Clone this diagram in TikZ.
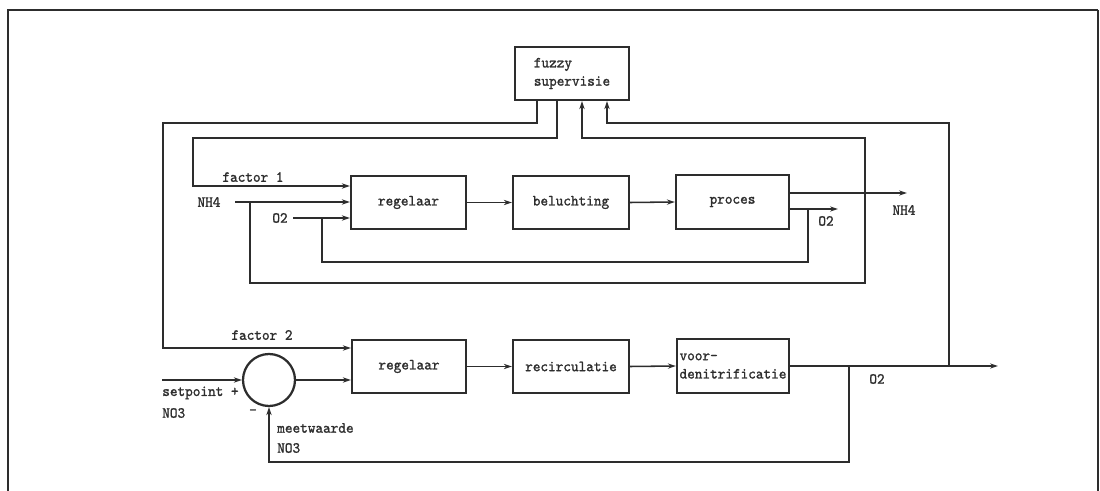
\documentclass[tikz,border=0pt]{standalone}
\usepackage{fontspec}
\newfontfamily\plotfont{Latin Modern Mono}[FakeBold=1.3, FakeStretch=0.94]
\usetikzlibrary{arrows.meta}
\definecolor{ink}{RGB}{45,45,45}
\begin{document}
\begin{tikzpicture}[x=0.025cm,y=-0.025cm,
  every node/.style={font=\plotfont\fontsize{11}{13}\selectfont, text=ink},
  blk/.style={draw=ink, line width=1.6pt, inner sep=0pt, minimum height=53*0.025cm, align=left},
  sig/.style={draw=ink, line width=1.1pt},
  arr/.style={sig, -{Stealth[length=2mm,width=1.3mm]}},
  lbl/.style={inner sep=0pt}]
\useasboundingbox (0,0) rectangle (1100,491);

% outer frame
\draw[ink, line width=1.4pt] (8,491) -- (8,10) -- (1098,10);
\draw[ink, line width=0.9pt] (1098,10) -- (1098,491);

% supervisory block
\node[blk, minimum width=114*0.025cm] (F) at (572,73.5) {fuzzy\\supervisie};

% aeration loop
\node[blk, minimum width=115*0.025cm] (R1) at (408.5,202.5) {regelaar};
\node[blk, minimum width=116*0.025cm] (B) at (571,202.5) {beluchting};
\node[blk, minimum width=113*0.025cm, minimum height=54*0.025cm] (P) at (732.5,202) {proces};

% denitrification loop
\node[blk, minimum width=114*0.025cm] (R2) at (409,366.5) {regelaar};
\node[blk, minimum width=116*0.025cm] (RC) at (571,366.5) {recirculatie};
\node[blk, minimum width=112*0.025cm, minimum height=54*0.025cm] (V) at (733,366) {voor-\\denitrificatie};
\node[draw=ink, line width=1.6pt, circle, minimum size=52*0.025cm, inner sep=0pt] (S) at (269,380) {};

% labels
\node[lbl] (tf1) at (253,177) {factor 1};
\node[lbl] (tnh4) at (209,202) {NH4};
\node[lbl] (to2) at (280,218) {O2};
\node[lbl] (tnh4o) at (904,210) {NH4};
\node[lbl] (to2o) at (826,221) {O2};
\node[lbl] (tf2) at (262,335) {factor 2};
\node[lbl, anchor=west] (tsp) at (162,393) {setpoint +};
\node[lbl, anchor=west] (tno3) at (162,413) {NO3};
\node[lbl] (tmin) at (253,412) {-};
\node[lbl, anchor=west] (tmw) at (277,428) {meetwaarde};
\node[lbl, anchor=west] (tno3b) at (277,448) {NO3};
\node[lbl] (to2l) at (877,379) {O2};

% routing points
\coordinate (xa) at (537,0);
\coordinate (xb) at (557,0);
\coordinate (k1) at (163,123);
\coordinate (k2) at (163,348);
\coordinate (m1) at (193,138);
\coordinate (m2) at (193,186);
\coordinate (n0) at (235,202);
\coordinate (n1) at (250,202);
\coordinate (n2) at (865,283);
\coordinate (n3) at (582,138);
\coordinate (i0) at (293,218);
\coordinate (o1) at (808,209);
\coordinate (o2) at (322,262);
\coordinate (o3) at (322,218);
\coordinate (yN) at (0,193);
\coordinate (yO) at (0,209);
\coordinate (eN) at (907,193);
\coordinate (eO) at (838,209);
\coordinate (sp) at (162,380);
\coordinate (v1) at (849,366);
\coordinate (v2) at (269,462);
\coordinate (w1) at (949,366);
\coordinate (w2) at (607,123);
\coordinate (eV) at (998,366);

% supervisory outputs (factors)
\draw[arr] (xa |- F.south) |- (k1) -- (k2) -- (k2 -| R2.west);
\draw[arr] (xb |- F.south) |- (m1) -- (m2) -- (m2 -| R1.west);

% aeration loop signals
\draw[arr] (n0) -- (n0 -| R1.west);
\draw[arr] (i0) -- (i0 -| R1.west);
\draw[arr] (R1.east) -- (B.west);
\draw[arr] (B.east) -- (P.west);
\draw[arr] (P.east |- yN) -- (eN);
\draw[arr] (P.east |- yO) -- (eO);
\draw[sig] (o1) |- (o2) -- (o3);
\draw[arr] (n1) |- (n2) |- (n3) -- (n3 |- F.south);

% denitrification loop signals
\draw[arr] (sp) -- (S.west);
\draw[arr] (S.east) -- (S.east -| R2.west);
\draw[arr] (R2.east) -- (RC.west);
\draw[arr] (RC.east) -- (V.west);
\draw[arr] (V.east) -- (eV);
\draw[arr] (v1) |- (v2) -- (S.south);
\draw[arr] (w1) |- (w2) -- (w2 |- F.south);
\end{tikzpicture}
\end{document}
